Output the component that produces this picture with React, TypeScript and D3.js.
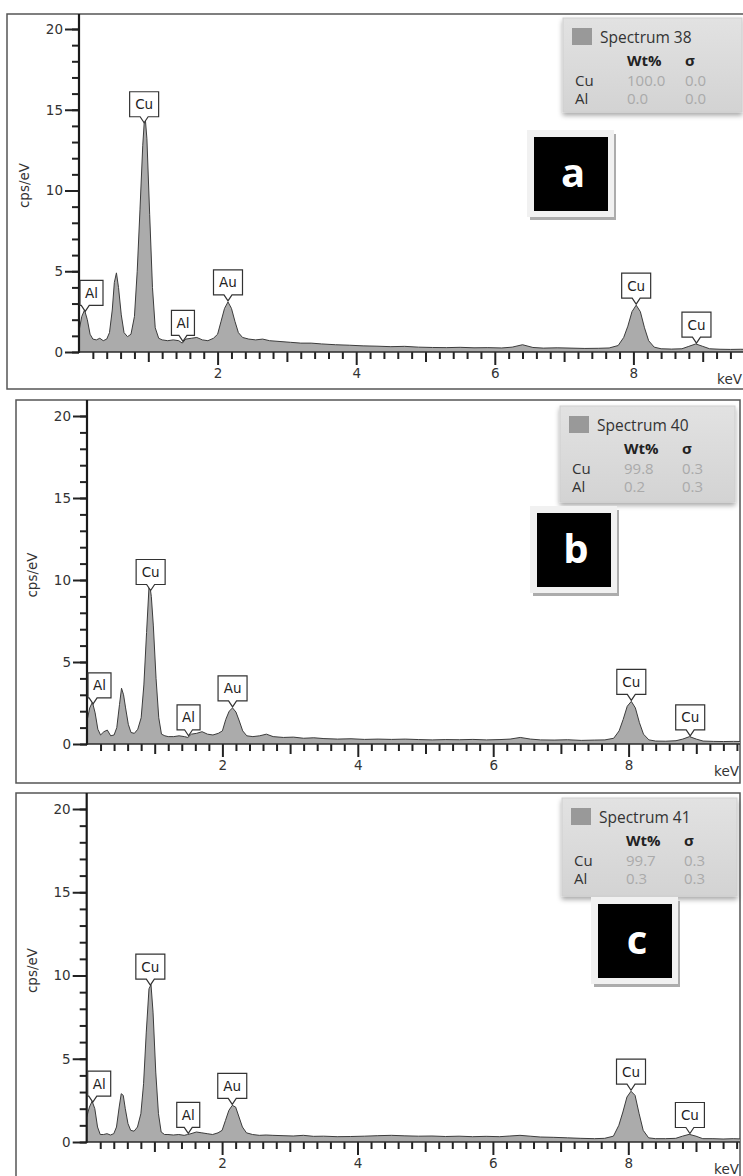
import React, { useEffect, useRef } from 'react';
import * as d3 from 'd3';

// energy grid (keV) shared by the three spectra
const energy = [
  0.00, 0.04, 0.08, 0.12, 0.16, 0.20, 0.25, 0.30, 0.35, 0.40,
  0.44, 0.48, 0.51, 0.54, 0.57, 0.61, 0.65, 0.70, 0.75, 0.80,
  0.84, 0.88, 0.92, 0.95, 0.98, 1.02, 1.06, 1.10, 1.15, 1.20,
  1.28, 1.36, 1.44, 1.49, 1.54, 1.62, 1.70, 1.78, 1.86, 1.94,
  2.00, 2.05, 2.10, 2.15, 2.20, 2.25, 2.30, 2.36, 2.45, 2.55,
  2.65, 2.75, 2.90, 3.05, 3.20, 3.35, 3.50, 3.70, 3.90, 4.10,
  4.30, 4.50, 4.70, 4.90, 5.10, 5.30, 5.50, 5.70, 5.90, 6.10,
  6.25, 6.40, 6.55, 6.70, 6.90, 7.10, 7.30, 7.50, 7.65, 7.78,
  7.86, 7.92, 7.98, 8.04, 8.10, 8.16, 8.22, 8.30, 8.40, 8.55,
  8.70, 8.80, 8.90, 9.00, 9.10, 9.25, 9.40, 9.55, 9.70,
];

// cps/eV, spectrum 38
const countsA = [
  1.3, 2.2, 2.6, 2.0, 1.1, 0.8, 0.75, 0.85, 0.7, 0.8,
  1.2, 2.6, 4.3, 4.9, 4.0, 2.3, 1.2, 0.95, 1.1, 2.2,
  5.0, 8.8, 12.8, 14.8, 13.2, 8.5, 4.0, 1.5, 0.85, 0.75,
  0.7, 0.75, 0.7, 0.55, 0.8, 0.85, 0.9, 0.75, 0.7, 0.85,
  1.1, 1.9, 2.7, 3.1, 2.7, 1.9, 1.2, 0.9, 0.8, 0.75,
  0.8, 0.7, 0.65, 0.6, 0.55, 0.55, 0.5, 0.45, 0.42, 0.38,
  0.36, 0.33, 0.35, 0.3, 0.28, 0.27, 0.29, 0.26, 0.27, 0.25,
  0.3, 0.45, 0.28, 0.24, 0.26, 0.24, 0.22, 0.23, 0.25, 0.4,
  0.9, 1.6, 2.5, 2.9, 2.5, 1.5, 0.7, 0.3, 0.2, 0.18,
  0.2, 0.35, 0.5, 0.35, 0.2, 0.17, 0.16, 0.17, 0.15,
];

// spectrum 40
const countsB = [
  1.4, 2.2, 2.55, 1.9, 0.9, 0.55, 0.75, 0.85, 0.5, 0.55,
  1.0, 2.4, 3.4, 3.0, 2.2, 1.2, 0.7, 0.65, 0.9, 1.6,
  3.6, 6.8, 9.9, 9.0, 7.2, 4.0, 1.6, 0.6, 0.5, 0.45,
  0.45, 0.5, 0.45, 0.4, 0.6, 0.65, 0.75, 0.6, 0.55, 0.65,
  0.8, 1.5, 2.0, 2.2, 1.95, 1.4, 0.8, 0.5, 0.45, 0.5,
  0.6, 0.45, 0.4, 0.42, 0.35, 0.38, 0.33, 0.3, 0.32, 0.28,
  0.3, 0.28, 0.3, 0.27, 0.25, 0.27, 0.26, 0.28, 0.25, 0.27,
  0.3, 0.4, 0.3, 0.25, 0.24, 0.26, 0.22, 0.24, 0.25, 0.35,
  0.8, 1.5, 2.3, 2.6, 2.2, 1.3, 0.6, 0.25, 0.18, 0.17,
  0.2, 0.3, 0.45, 0.3, 0.18, 0.16, 0.15, 0.16, 0.15,
];

// spectrum 41
const countsC = [
  1.5, 2.1, 2.45, 2.0, 0.9, 0.45, 0.45, 0.5, 0.42, 0.5,
  0.9, 2.1, 2.9, 2.8, 2.0, 1.1, 0.7, 0.65, 0.9, 1.7,
  3.5, 6.6, 9.2, 9.45, 7.8, 4.2, 1.7, 0.6, 0.45, 0.45,
  0.42, 0.45, 0.4, 0.45, 0.5, 0.6, 0.55, 0.5, 0.45, 0.55,
  0.7, 1.3, 1.9, 2.2, 2.1, 1.5, 0.9, 0.55, 0.45, 0.4,
  0.42, 0.4, 0.38, 0.36, 0.4, 0.34, 0.35, 0.32, 0.33, 0.35,
  0.38, 0.4, 0.37, 0.35, 0.36, 0.33, 0.35, 0.32, 0.34, 0.32,
  0.36, 0.4, 0.35, 0.3, 0.28, 0.25, 0.22, 0.2, 0.22, 0.35,
  1.0, 1.8, 2.7, 3.05, 2.8, 1.7, 0.7, 0.25, 0.2, 0.2,
  0.22, 0.35, 0.46, 0.35, 0.2, 0.2, 0.18, 0.2, 0.18,
];

const spectrumNames = ['Spectrum 38', 'Spectrum 40', 'Spectrum 41'];
const panelLetters = ['a', 'b', 'c'];
const quantElements = ['Cu', 'Al'];
const wtPercent = [['100.0', '0.0'], ['99.8', '0.2'], ['99.7', '0.3']];
const sigmas = [['0.0', '0.0'], ['0.3', '0.3'], ['0.3', '0.3']];

const peakSymbols = ['Al', 'Cu', 'Al', 'Au', 'Cu', 'Cu'];
const peakEnergies = [0.09, 0.94, 1.5, 2.15, 8.04, 8.91];

const yMajorTicks = [0, 5, 10, 15, 20];
const xLabelTicks = [2, 4, 6, 8];

// page layout of the three stacked panels
const layout = [
  { l: 7, t: 14, r: 746, b: 389, x0: 79, kx: 69.3, y0: 352, y20: 29, lg: { x: 563, y: 18, w: 179, h: 94 }, bd: { x: 534, y: 137 } },
  { l: 16, t: 400, r: 740, b: 783, x0: 87, kx: 67.7, y0: 744, y20: 416, lg: { x: 560, y: 406, w: 175, h: 96 }, bd: { x: 537, y: 513 } },
  { l: 16, t: 793, r: 740, b: 1182, x0: 86.7, kx: 67.7, y0: 1142, y20: 809, lg: { x: 562, y: 798, w: 175, h: 98 }, bd: { x: 598, y: 904 } },
];

const allCounts = [countsA, countsB, countsC];
const axisFont = 'DejaVu Sans';
const axisSize = '13.5px';

export default function App() {
  const ref = useRef<SVGSVGElement | null>(null);

  useEffect(() => {
    const svg = d3.select(ref.current);
    svg.selectAll('*').remove();

    const defs = svg.append('defs');
    const grad = defs.append('linearGradient').attr('id', 'lgGrad').attr('x1', 0).attr('y1', 0).attr('x2', 0).attr('y2', 1);
    grad.append('stop').attr('offset', '0%').attr('stop-color', '#e2e2e2');
    grad.append('stop').attr('offset', '100%').attr('stop-color', '#d3d3d3');
    const shadow = defs.append('filter').attr('id', 'lgShadow').attr('x', '-10%').attr('y', '-10%').attr('width', '125%').attr('height', '130%');
    shadow.append('feDropShadow').attr('dx', 0).attr('dy', 3).attr('stdDeviation', 2.5).attr('flood-color', '#000').attr('flood-opacity', 0.35);

    layout.forEach((p, i) => {
      const counts = allCounts[i];
      const data = energy.map((e, j) => ({ e, v: counts[j] }));

      const x = d3.scaleLinear().domain([0, 10]).range([p.x0, p.x0 + 10 * p.kx]);
      const y = d3.scaleLinear().domain([0, 20]).range([p.y0, p.y20]);

      const g = svg.append('g');
      const rightEdge = Math.min(p.r, 743);

      defs.append('clipPath').attr('id', `clip${i}`)
        .append('rect').attr('x', p.x0).attr('y', p.t).attr('width', p.r - p.x0).attr('height', p.y0 - p.t);

      // frame
      g.append('rect')
        .attr('x', p.l).attr('y', p.t).attr('width', p.r - p.l).attr('height', p.b - p.t)
        .attr('fill', '#fff').attr('stroke', '#555').attr('stroke-width', 1.5);

      // spectrum
      const area = d3.area<{ e: number; v: number }>().x(d => x(d.e)).y0(y(0)).y1(d => y(d.v));
      const line = d3.line<{ e: number; v: number }>().x(d => x(d.e)).y(d => y(d.v));
      const plot = g.append('g').attr('clip-path', `url(#clip${i})`);
      plot.append('path').datum(data).attr('d', area).attr('fill', '#ababab');
      plot.append('path').datum(data).attr('d', line).attr('fill', 'none').attr('stroke', '#3c3c3c').attr('stroke-width', 1);

      // y axis
      const yMinor = g.append('g').attr('transform', `translate(${p.x0},0)`)
        .call(d3.axisLeft(y).tickValues(d3.range(0, 21)).tickSize(7).tickFormat(() => ''));
      const yMajor = g.append('g').attr('transform', `translate(${p.x0},0)`)
        .call(d3.axisLeft(y).tickValues(yMajorTicks).tickSize(14).tickPadding(2).tickFormat(d3.format('d')));
      [yMinor, yMajor].forEach(ax => {
        ax.select('.domain').remove();
        ax.selectAll('.tick line').attr('stroke', '#222').attr('stroke-width', 2);
        ax.selectAll('.tick text').attr('fill', '#333').style('font-size', axisSize).style('font-family', axisFont);
      });

      // x axis
      defs.append('clipPath').attr('id', `xclip${i}`)
        .append('rect').attr('x', p.x0).attr('y', p.y0 - 2).attr('width', rightEdge - p.x0).attr('height', 20);
      const xClip = g.append('g').attr('clip-path', `url(#xclip${i})`);
      const minorE = d3.range(1, 49).map(k => k * 0.2).filter(v => Math.abs(v - Math.round(v)) > 0.01);
      const xMinor = xClip.append('g').attr('transform', `translate(0,${p.y0})`)
        .call(d3.axisBottom(x).tickValues(minorE).tickSize(7).tickFormat(() => ''));
      const xMid = xClip.append('g').attr('transform', `translate(0,${p.y0})`)
        .call(d3.axisBottom(x).tickValues([1, 3, 5, 7, 9]).tickSize(10).tickFormat(() => ''));
      const xMajor = g.append('g').attr('transform', `translate(0,${p.y0})`)
        .call(d3.axisBottom(x).tickValues(xLabelTicks).tickSize(13).tickPadding(3).tickFormat(d3.format('d')));
      [xMinor, xMid, xMajor].forEach(ax => {
        ax.select('.domain').remove();
        ax.selectAll('.tick line').attr('stroke', '#222').attr('stroke-width', 2);
        ax.selectAll('.tick text').attr('fill', '#333').style('font-size', axisSize).style('font-family', axisFont);
      });

      // axis lines
      g.append('line').attr('x1', p.x0).attr('x2', p.x0).attr('y1', p.t).attr('y2', p.y0 + 1)
        .attr('stroke', '#1a1a1a').attr('stroke-width', 2.2);
      g.append('line').attr('x1', p.x0).attr('x2', rightEdge).attr('y1', p.y0).attr('y2', p.y0)
        .attr('stroke', '#2a2a2a').attr('stroke-width', 1.5);

      g.append('text').attr('x', rightEdge - 1).attr('y', p.y0 + 32)
        .attr('text-anchor', 'end').attr('fill', '#333')
        .style('font-size', axisSize).style('font-family', axisFont).text('keV');

      g.append('text')
        .attr('transform', `translate(${p.x0 - 50},${(p.y0 + p.y20) / 2 - 5}) rotate(-90)`)
        .attr('text-anchor', 'middle').attr('fill', '#333')
        .style('font-size', axisSize).style('font-family', axisFont).text('cps/eV');

      // peak labels
      const bis = d3.bisector((d: { e: number }) => d.e).left;
      peakSymbols.forEach((sym, k) => {
        const e = peakEnergies[k];
        const j = Math.max(1, bis(data, e));
        const a = data[j - 1];
        const b = data[j];
        const v = a.v + (b.v - a.v) * ((e - a.e) / (b.e - a.e));
        const tx = x(e);
        const ty = y(v) - 1;
        const w = sym === 'Al' ? 23 : 29;
        const h = 25;
        let bx = tx - w / 2;
        if (bx < p.x0 + 1) bx = p.x0 + 1;
        const by = ty - 6 - h;
        g.append('path')
          .attr('d', `M${bx},${by}H${bx + w}V${by + h}H${Math.min(tx + 4, bx + w)}L${tx},${ty}L${Math.max(tx - 4, bx)},${by + h}H${bx}Z`)
          .attr('fill', '#fff').attr('stroke', '#333').attr('stroke-width', 1.2);
        g.append('text').attr('x', bx + w / 2).attr('y', by + h / 2 + 5)
          .attr('text-anchor', 'middle').attr('fill', '#222')
          .style('font-size', '13.5px').style('font-family', axisFont).text(sym);
      });

      // legend
      const lg = g.append('g').attr('transform', `translate(${p.lg.x},${p.lg.y})`);
      lg.append('rect').attr('width', p.lg.w).attr('height', p.lg.h)
        .attr('fill', 'url(#lgGrad)').attr('stroke', '#cfcfcf').attr('filter', 'url(#lgShadow)');
      lg.append('rect').attr('x', 9).attr('y', 10).attr('width', 20).attr('height', 17).attr('fill', '#999');
      const ff = 'Open Sans';
      lg.append('text').attr('x', 37).attr('y', 25).attr('fill', '#333')
        .style('font-size', '15.5px').style('font-family', ff).text(spectrumNames[i]);
      lg.append('text').attr('x', 64).attr('y', 48).attr('fill', '#222')
        .style('font-size', '15px').style('font-weight', 700).style('font-family', ff).text('Wt%');
      lg.append('text').attr('x', 122).attr('y', 48).attr('fill', '#222')
        .style('font-size', '15px').style('font-weight', 700).style('font-family', ff).text('σ');
      quantElements.forEach((el, r) => {
        const yy = 68 + r * 18;
        lg.append('text').attr('x', 12).attr('y', yy).attr('fill', '#333')
          .style('font-size', '15px').style('font-family', ff).text(el);
        lg.append('text').attr('x', 64).attr('y', yy).attr('fill', '#aaa')
          .style('font-size', '15px').style('font-family', ff).text(wtPercent[i][r]);
        lg.append('text').attr('x', 122).attr('y', yy).attr('fill', '#aaa')
          .style('font-size', '15px').style('font-family', ff).text(sigmas[i][r]);
      });

      // panel letter badge
      const bd = g.append('g').attr('transform', `translate(${p.bd.x},${p.bd.y})`);
      bd.append('rect').attr('x', -4).attr('y', -3).attr('width', 86).attr('height', 86).attr('fill', '#acacac');
      bd.append('rect').attr('x', -7).attr('y', -7).attr('width', 87).attr('height', 87).attr('fill', '#f1f1f1');
      bd.append('rect').attr('width', 74).attr('height', 74).attr('fill', '#000');
      bd.append('text').attr('x', 39).attr('y', 50).attr('text-anchor', 'middle').attr('fill', '#fff')
        .style('font-size', '40px').style('font-weight', 700).style('font-family', ff).text(panelLetters[i]);
    });
  }, []);

  return (
    <svg ref={ref} width={743} height={1176}
      style={{ position: 'absolute', left: 0, top: 0, background: '#fff' }} />
  );
}
